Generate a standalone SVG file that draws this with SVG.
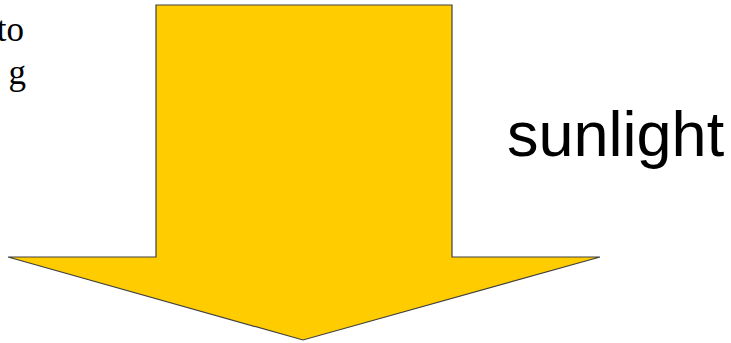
<svg xmlns="http://www.w3.org/2000/svg" width="731" height="343" viewBox="0 0 731 343">
<style>
.arrow{fill:#FFCC00;stroke:#404040;stroke-width:1.2;stroke-linejoin:miter}
.serif{font-family:"Liberation Serif","Times New Roman",serif;font-size:35px;fill:#000}
.label{font-family:"Liberation Sans",Arial,sans-serif;font-size:63px;fill:#000}
</style>
<rect width="731" height="343" fill="#fff"/>
<g id="caption">
<text class="serif" x="24" y="41" text-anchor="end">to</text>
<text class="serif" x="26" y="84" text-anchor="end">g</text>
</g>
<g id="arrow">
<polygon class="arrow" points="156,5 452,5 452,257 600,257 303,340 8,257 156,257"/>
</g>
<g id="sunlight">
<text class="label" x="507" y="156">sunlight</text>
</g>
</svg>
